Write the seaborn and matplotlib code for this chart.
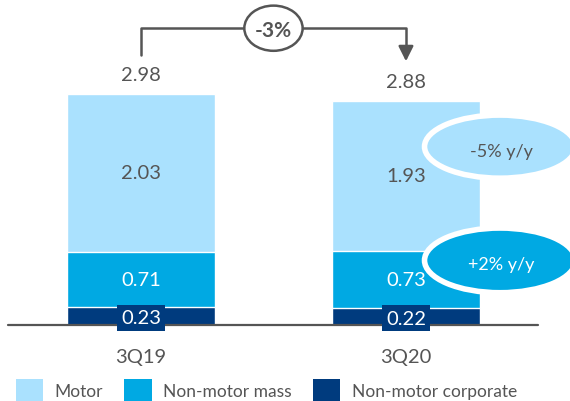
"""
plot.py - Stacked GWP bars, 3Q19 vs 3Q20.
"""

import numpy as np
import pandas as pd
import matplotlib.pyplot as plt
import seaborn as sns
from matplotlib.patches import Ellipse, Patch

# Data
quarters = ["3Q19", "3Q20"]
motor = [2.03, 1.93]
non_motor_mass = [0.71, 0.73]
non_motor_corporate = [0.23, 0.22]
totals = [2.98, 2.88]
change_total = "-3%"
change_motor = "-5% y/y"
change_mass = "+2% y/y"
series_names = ["Motor", "Non-motor mass", "Non-motor corporate"]

colors = ["#aae1fe", "#00a9e3", "#003b7e"]
grey = "#555555"

df = pd.DataFrame({
    "quarter": quarters,
    "corp": non_motor_corporate,
    "mass": non_motor_mass,
    "motor": motor,
})
df["lvl_corp"] = df["corp"]
df["lvl_mass"] = df["corp"] + df["mass"]
df["lvl_motor"] = df["lvl_mass"] + df["motor"]

sns.set_style("white")
plt.rcParams["font.family"] = ["Lato", "DejaVu Sans"]

fig = plt.figure(figsize=(5.7, 4.02), dpi=100)
ax = fig.add_axes([0, 0, 1, 1])

bar_w = 0.56
# draw cumulative levels back to front so they stack
for col, c in zip(["lvl_motor", "lvl_mass", "lvl_corp"], colors):
    sns.barplot(data=df, x="quarter", y=col, color=c, width=bar_w,
                saturation=1, ax=ax, zorder=2)

ax.set_xlim(-0.532, 1.619)
ax.set_ylim(-0.975, 4.185)
ax.axis("off")

# baseline
ax.plot([-0.50, 1.50], [0, 0], color=grey, lw=1.6, zorder=3)

for i in range(len(quarters)):
    # segment labels
    ax.text(i, df["lvl_mass"][i] + motor[i] / 2, f"{motor[i]:.2f}",
            ha="center", va="center", fontsize=14.5, color=grey, zorder=4)
    ax.text(i, df["lvl_corp"][i] + non_motor_mass[i] / 2, f"{non_motor_mass[i]:.2f}",
            ha="center", va="center", fontsize=14.5, color="white", zorder=4)
    ax.text(i, non_motor_corporate[i] / 2 - 0.02, f"{non_motor_corporate[i]:.2f}",
            ha="center", va="center", fontsize=14.5, color="white", zorder=5,
            bbox=dict(boxstyle="square,pad=0.22", fc=colors[2], ec="none"))
    # totals
    ax.text(i, totals[i] + 0.24, f"{totals[i]:.2f}", ha="center", va="center",
            fontsize=14.5, color=grey)
    # category labels
    ax.text(i, -0.40, quarters[i], ha="center", va="center", fontsize=14.5, color=grey)

# bracket with change
top = max(totals) + 0.83
ax.plot([0, 0, 1, 1], [totals[0] + 0.48, top, top, totals[1] + 0.62],
        color=grey, lw=1.8, zorder=3)
ax.annotate("", xy=(1, totals[1] + 0.47), xytext=(1, totals[1] + 0.66),
            arrowprops=dict(arrowstyle="-|>,head_width=0.45,head_length=0.9",
                            color=grey, lw=1.8))
ax.add_patch(Ellipse((0.5, top), 0.22, 0.58, fc="white", ec=grey, lw=1.8, zorder=4))
ax.text(0.5, top - 0.02, change_total, ha="center", va="center", fontsize=15,
        fontweight="bold", color=grey, zorder=5)

# y/y bubbles
ax.add_patch(Ellipse((1.355, 2.29), 0.57, 0.81, fc=colors[0], ec="white", lw=4, zorder=6))
ax.text(1.36, 2.24, change_motor, ha="center", va="center", fontsize=13,
        color=grey, zorder=7)
ax.add_patch(Ellipse((1.355, 0.83), 0.57, 0.83, fc=colors[1], ec="white", lw=4, zorder=6))
ax.text(1.36, 0.78, change_mass, ha="center", va="center", fontsize=13,
        color="white", zorder=7)

# legend
handles = [Patch(facecolor=c, edgecolor="none") for c in colors]
fig.legend(handles, series_names, ncol=3, loc="lower left",
           bbox_to_anchor=(0.0, -0.04), frameon=False, fontsize=12.5,
           handlelength=1.6, handleheight=1.6, columnspacing=1.2,
           handletextpad=0.65, labelcolor=grey)

fig.savefig("out.png", dpi=100)
